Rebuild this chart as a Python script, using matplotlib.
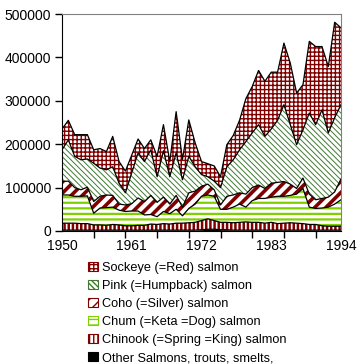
import numpy as np
import matplotlib
matplotlib.use("Agg")
import matplotlib.pyplot as plt
from matplotlib.patches import Patch

plt.rcParams['font.family'] = ['Liberation Sans', 'DejaVu Sans']

years = list(range(1950, 1995))

other = [2, 2, 2, 2, 2, 2, 2, 2, 2, 2, 2, 2, 2, 2, 2, 2, 2, 2, 2, 2, 2, 2, 3, 4, 4,
         3, 3, 2, 2, 2, 2, 2, 2, 2, 2, 2, 2, 2, 2, 2, 2, 2, 2, 2, 2]
chinook = [16, 16, 16, 15, 15, 12, 12, 11, 13, 12, 10, 10, 11, 11, 14, 13, 15, 14, 16, 16, 17, 18, 21, 24, 20,
           17, 17, 17, 18, 19, 18, 18, 16, 18, 15, 16, 17, 16, 15, 13, 13, 10, 9, 9, 9]
chum = [65, 65, 62, 63, 64, 27, 39, 41, 40, 34, 33, 34, 33, 24, 22, 18, 28, 24, 32, 17, 33, 42, 56, 55, 56,
        30, 30, 36, 42, 34, 50, 55, 57, 58, 63, 62, 63, 67, 81, 40, 37, 41, 44, 51, 61]
coho = [31, 32, 20, 15, 20, 27, 27, 29, 27, 14, 15, 17, 30, 31, 44, 33, 33, 22, 32, 20, 36, 30, 23, 25, 15,
        10, 30, 28, 26, 30, 30, 31, 23, 32, 32, 34, 26, 13, 24, 30, 20, 22, 23, 28, 48]
pink = [73, 95, 72, 69, 65, 88, 65, 58, 66, 48, 28, 71, 104, 92, 105, 59, 107, 63, 98, 63, 84, 56, 27, 17, 20,
        40, 68, 81, 99, 121, 126, 139, 120, 125, 143, 177, 137, 101, 111, 187, 173, 204, 148, 171, 171]
sockeye = [48, 45, 50, 58, 56, 31, 45, 42, 70, 50, 50, 41, 32, 30, 23, 47, 60, 35, 95, 47, 84, 55, 30, 30, 35,
           25, 51, 56, 68, 99, 107, 125, 127, 131, 111, 142, 142, 119, 104, 165, 180, 146, 153, 220, 177]

labels = ["Other Salmons, trouts, smelts,",
          "Chinook (=Spring =King) salmon",
          "Chum (=Keta =Dog) salmon",
          "Coho (=Silver) salmon",
          "Pink (=Humpback) salmon",
          "Sockeye (=Red) salmon"]
series = [other, chinook, chum, coho, pink, sockeye]
xtick_labels = ['1950', '1961', '1972', '1983', '1994']

styles = [
    dict(fc='black', hc='black', hatch=None, hlw=1.0),
    dict(fc='white', hc='#800000', hatch='||||', hlw=1.8),
    dict(fc='white', hc='#80d000', hatch='---', hlw=1.6),
    dict(fc='white', hc='#800000', hatch='///', hlw=2.6),
    dict(fc='white', hc='#3f7a30', hatch='\\' * 6, hlw=0.7),
    dict(fc='white', hc='#800000', hatch='++++', hlw=1.0),
]

fig = plt.figure(figsize=(3.6, 3.64), dpi=100)
ax = fig.add_axes([62 / 360, 1 - 231 / 364, (341 - 62) / 360, (231 - 14) / 364])

x = np.array(years)
base = np.zeros(len(years))
handles = []
for vals, st, lab in zip(series, styles, labels):
    top = base + np.array(vals) * 1000.0
    with plt.rc_context({'hatch.linewidth': st['hlw']}):
        pc = ax.fill_between(x, base, top, facecolor=st['fc'], edgecolor=st['hc'],
                             hatch=st['hatch'], linewidth=0)
        if hasattr(pc, 'set_hatch_linewidth'):
            pc.set_hatch_linewidth(st['hlw'])
        ax.plot(x, top, color='black', lw=0.9)
        h = Patch(facecolor=st['fc'], edgecolor=st['hc'], hatch=st['hatch'], linewidth=0.8)
        if hasattr(h, 'set_hatch_linewidth'):
            h.set_hatch_linewidth(st['hlw'])
    handles.append(h)
    base = top

ax.set_xlim(1950, 1994)
ax.set_ylim(0, 500000)
ax.set_yticks([0, 100000, 200000, 300000, 400000, 500000])
ax.set_yticklabels(['0', '100000', '200000', '300000', '400000', '500000'], fontsize=10)
ax.set_xticks([int(t) for t in xtick_labels])
ax.set_xticklabels(xtick_labels, fontsize=10)
ax.set_xticks(list(range(1955, 1995, 5)), minor=True)
ax.tick_params(axis='x', which='major', length=0, pad=6)
ax.tick_params(axis='x', which='minor', length=5, width=1, color='black', direction='out')
ax.tick_params(axis='y', length=5, width=1, direction='out', pad=3)
for s in ['top', 'right']:
    ax.spines[s].set_color('#808080')
for s in ['left', 'bottom']:
    ax.spines[s].set_color('black')

leg = fig.legend(handles[::-1], labels[::-1], loc='upper left',
                 bbox_to_anchor=(88 / 360, 1 - 262 / 364), frameon=False,
                 fontsize=9.2, handlelength=0.75, handleheight=0.75,
                 handletextpad=0.35, labelspacing=0.46, borderpad=0, borderaxespad=0)

fig.savefig('out.png', dpi=100)
